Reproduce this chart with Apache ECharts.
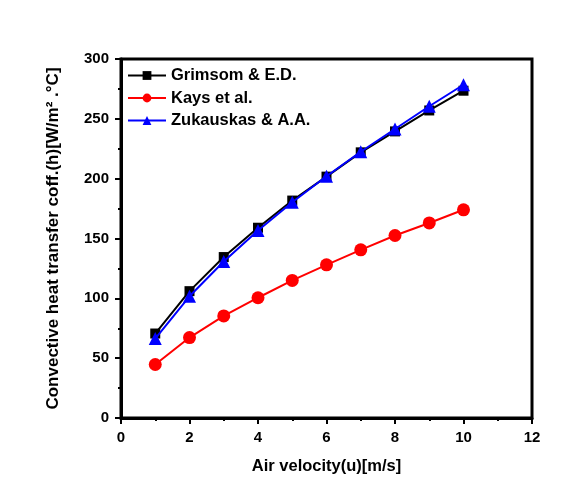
<!DOCTYPE html>
<html>
<head>
<meta charset="utf-8">
<script src="https://cdn.jsdelivr.net/npm/echarts@6/dist/echarts.min.js"></script>
<style>
  html, body { margin: 0; padding: 0; background: #ffffff; }
  #chart { width: 562px; height: 496px; }
</style>
</head>
<body>
<div id="chart"></div>
<script>
// Air velocity (m/s)
const velocity = [1, 2, 3, 4, 5, 6, 7, 8, 9, 10];
// Convective heat transfer coefficient (W/m².°C) from three correlations
const grimsom = [70.6, 106, 134.5, 159, 181.7, 201.7, 222, 239.5, 257, 273.5];
const kays = [44.7, 67.2, 85.3, 100.5, 115, 128, 140.5, 152.5, 163, 174];
const zukauskas = [66.4, 101.7, 130.8, 156.7, 180.3, 202, 222.5, 241.5, 260.5, 278.5];

const seriesNames = ['Grimsom & E.D.', 'Kays et al.', 'Zukauskas & A.A.'];

const pairs = arr => velocity.map((v, i) => [v, arr[i]]);
const font = 'Liberation Sans, Arial, sans-serif';

const tickStyle = { color: '#000', width: 2 };

const chart = echarts.init(document.getElementById('chart'));
chart.setOption({
  animation: false,
  backgroundColor: '#ffffff',
  grid: {
    left: 121, right: 30, top: 59, bottom: 78,
    show: true, borderColor: '#000', borderWidth: 3, backgroundColor: 'transparent'
  },
  legend: {
    left: 122, top: 62, orient: 'vertical',
    itemWidth: 38, itemHeight: 11, itemGap: 5.5,
    textStyle: { fontFamily: font, fontWeight: 'bold', fontSize: 16.5, color: '#000' },
    data: seriesNames
  },
  xAxis: {
    type: 'value', min: 0, max: 12, interval: 2,
    name: 'Air velocity(u)[m/s]', nameLocation: 'middle', nameGap: 40,
    nameTextStyle: { fontFamily: font, fontWeight: 'bold', fontSize: 16.5, color: '#000' },
    axisLine: { lineStyle: { color: '#000', width: 3 } },
    axisTick: { inside: false, length: 6, lineStyle: tickStyle },
    minorTick: { show: true, splitNumber: 2, length: 3, lineStyle: tickStyle },
    splitLine: { show: false },
    axisLabel: { fontFamily: font, fontWeight: 'bold', fontSize: 15, color: '#000', margin: 12 }
  },
  yAxis: {
    type: 'value', min: 0, max: 300, interval: 50,
    name: 'Convective heat transfer coff.(h)[W/m² .°C]', nameLocation: 'middle', nameGap: 59,
    nameTextStyle: { fontFamily: font, fontWeight: 'bold', fontSize: 17, color: '#000' },
    axisLine: { lineStyle: { color: '#000', width: 3 } },
    axisTick: { inside: false, length: 6, lineStyle: tickStyle },
    minorTick: { show: true, splitNumber: 2, length: 3, lineStyle: tickStyle },
    splitLine: { show: false },
    axisLabel: { fontFamily: font, fontWeight: 'bold', fontSize: 15, color: '#000', margin: 12 }
  },
  series: [
    {
      name: seriesNames[0], type: 'line', data: pairs(grimsom),
      symbol: 'rect', symbolSize: 10, z: 3,
      lineStyle: { color: '#000', width: 2 }, itemStyle: { color: '#000' }
    },
    {
      name: seriesNames[1], type: 'line', data: pairs(kays),
      symbol: 'circle', symbolSize: 13, z: 4,
      lineStyle: { color: '#ff0000', width: 2 }, itemStyle: { color: '#ff0000' }
    },
    {
      name: seriesNames[2], type: 'line', data: pairs(zukauskas),
      symbol: 'triangle', symbolSize: 13, z: 5,
      lineStyle: { color: '#0000ff', width: 2 }, itemStyle: { color: '#0000ff' }
    }
  ]
});
</script>
</body>
</html>
